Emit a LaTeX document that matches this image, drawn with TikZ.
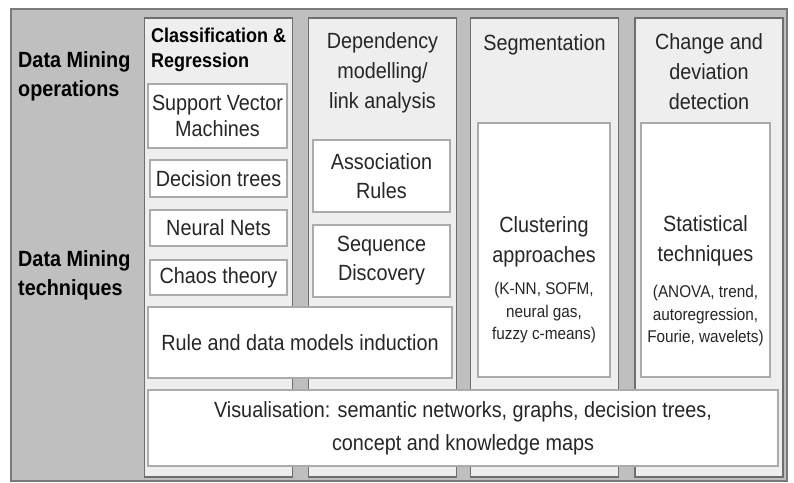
\documentclass[tikz,border=0pt]{standalone}
\usepackage{fontspec}
\setmainfont{Liberation Sans}[FakeStretch=0.9]
\definecolor{bggray}{HTML}{BFBFBF}
\definecolor{outerline}{HTML}{7A7A7A}
\definecolor{colfill}{HTML}{EEEEEE}
\definecolor{colline}{HTML}{6E6E6E}
\definecolor{boxline}{HTML}{ABABAB}
\definecolor{ink}{HTML}{262626}
\begin{document}
\begin{tikzpicture}[x=1pt,y=-1pt,
  outerbox/.style={draw=outerline, fill=bggray, line width=2pt, inner sep=0pt, outer sep=0pt},
  colbox/.style={draw=colline, fill=colfill, line width=1.6pt, inner sep=0pt, outer sep=0pt, minimum width=148pt, minimum height=459pt},
  inbox/.style={draw=boxline, fill=white, line width=1.3pt, inner sep=0pt, outer sep=0pt, text=ink, align=center, font=\fontsize{22}{26}\selectfont},
  txt/.style={text=ink, align=center, inner sep=0pt, font=\fontsize{22}{30}\selectfont},
  small/.style={text=ink, align=center, inner sep=0pt, font=\fontsize{17}{22.5}\selectfont},
  sidelabel/.style={text=black, align=left, inner sep=0pt, anchor=west, font=\bfseries\fontsize{22}{29}\selectfont},
]
\useasboundingbox (0,0) rectangle (794,482);
\fill[white] (0,0) rectangle (794,482);
\node[outerbox, minimum width=776pt, minimum height=472pt] (outer) at (399,245) {};

% columns
\node[colbox] (col1) at (218.5,247.5) {};
\node[colbox] (col2) at (382.5,247.5) {};
\node[colbox] (col3) at (544.5,247.5) {};
\node[colbox] (col4) at (709,247.5) {};

% side labels
\node[sidelabel] (ops) at (18,76) {Data Mining\\operations};
\node[sidelabel] (tech) at (18,275) {Data Mining\\techniques};

% column titles
\node[text=black, align=left, inner sep=0pt, anchor=west, font=\bfseries\fontsize{20}{25}\selectfont] (t1) at (151,50) {Classification \&\\Regression};
\node[txt] (t2) at (382.5,73) {Dependency\\modelling/\\link analysis};
\node[txt] (t3) at (544.5,45) {Segmentation};
\node[txt] (t4) at (709,72) {Change and\\deviation\\detection};

% column 1 boxes
\node[inbox, minimum width=139pt, minimum height=64pt] (svm) at (217.5,116) {Support Vector\\Machines};
\node[inbox, minimum width=137pt, minimum height=37pt] (dt) at (218.5,178.5) {Decision trees};
\node[inbox, minimum width=137pt, minimum height=36pt] (nn) at (218.5,228) {Neural Nets};
\node[inbox, minimum width=137pt, minimum height=35pt] (chaos) at (218.5,277.5) {Chaos theory};

% column 2 boxes
\node[inbox, minimum width=137pt, minimum height=72pt, font=\fontsize{22}{29}\selectfont] (assoc) at (381.5,176) {Association\\Rules};
\node[inbox, minimum width=137pt, minimum height=72pt, font=\fontsize{22}{29}\selectfont] (seq) at (381.5,261) {Sequence\\Discovery};

% column 3 and 4 boxes
\node[inbox, minimum width=132pt, minimum height=254pt] (clus) at (544,250) {};
\node[txt] (clustxt) at (544,242) {Clustering\\approaches};
\node[small] (clussmall) at (544,313) {(K-NN, SOFM,\\neural gas,\\fuzzy c-means)};
\node[inbox, minimum width=129pt, minimum height=254pt] (stat) at (705.5,250) {};
\node[txt] (stattxt) at (705.5,241) {Statistical\\techniques};
\node[small] (statsmall) at (705.5,316) {(ANOVA, trend,\\autoregression,\\Fourie, wavelets)};

% wide boxes
\node[inbox, minimum width=304pt, minimum height=71pt] (rule) at (300,342.5) {Rule and data models induction};
\node[inbox, minimum width=630pt, minimum height=76pt, font=\fontsize{22}{33}\selectfont] (vis) at (463,428) {Visualisation: semantic networks, graphs, decision trees,\\concept and knowledge maps};
\end{tikzpicture}
\end{document}
